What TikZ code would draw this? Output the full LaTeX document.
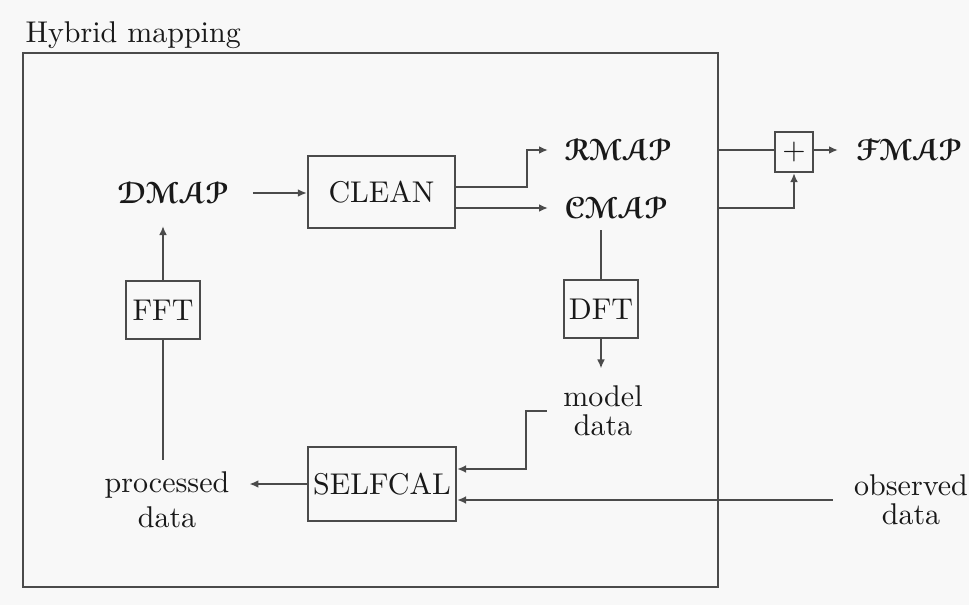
\documentclass[tikz,border=0pt]{standalone}
\usepackage{eucal}
\usetikzlibrary{arrows.meta}

\definecolor{paper}{RGB}{248,248,248}
\definecolor{ink}{RGB}{25,25,25}
\definecolor{wire}{RGB}{75,75,75}

\tikzset{
  wireline/.style={draw=wire, line width=0.75pt},
  arr/.style={wireline, -{Latex[length=3pt,width=2.6pt]}},
  block/.style={draw=wire, line width=0.75pt, rectangle, inner sep=0pt, text=ink},
  label/.style={text=ink, align=center},
  mapname/.style={label, font=\boldmath},
}

\begin{document}
\begin{tikzpicture}[x=0.33333pt, y=-0.33333pt]
  % canvas
  \fill[paper] (0,0) rectangle (969,605);
  \useasboundingbox (0,0) rectangle (969,605);

  % enclosing frame and its caption
  \node[block, minimum width=231.67pt, minimum height=178pt] (frame) at (370.5,320) {};
  \node[label, anchor=base west, inner sep=0pt] (title) at (25,42) {Hybrid mapping};

  % blocks
  \node[block, minimum width=49pt, minimum height=24pt] (clean) at (381.5,192) {CLEAN};
  \node[block, minimum width=24.7pt, minimum height=19.3pt] (fft) at (163,310) {FFT};
  \node[block, minimum width=24.7pt, minimum height=19.3pt] (dft) at (601,309) {DFT};
  \node[block, minimum width=49.3pt, minimum height=24.67pt] (selfcal) at (382,484) {SELFCAL};
  \node[block, minimum width=12.7pt, minimum height=13.3pt] (plus) at (794,152) {$+$};

  % maps
  \node[mapname, inner xsep=8pt, inner ysep=7.3pt] (dmap) at (173,193) {$\mathcal{DMAP}$};
  \node[mapname, anchor=west, inner xsep=5.3pt, inner ysep=3.7pt] (rmap) at (548,150) {$\mathcal{RMAP}$};
  \node[mapname, anchor=west, inner xsep=5.3pt, inner ysep=3.7pt] (cmap) at (548,208) {$\mathcal{CMAP}$};
  \node[mapname, anchor=west, inner xsep=6pt, inner ysep=3pt] (fmap) at (838,150) {$\mathcal{FMAP}$};

  % data
  \node[label, inner xsep=5.3pt, inner ysep=5.7pt] (model) at (603,411) {model\\[-2.5pt]data};
  \node[label, inner xsep=6.5pt, inner ysep=4pt] (proc) at (167,500) {processed\\[-0.5pt]data};
  \node[label, inner xsep=7pt, inner ysep=4pt] (obs) at (911,500) {observed\\[-2.5pt]data};

  % CLEAN outputs
  \coordinate (split) at (527,187);
  \draw[arr] (clean.east |- split) -- (split) |- (rmap.west);
  \draw[arr] (clean.east |- cmap) -- (cmap.west);

  % model loop
  \draw[arr] (dmap.east) -- (dmap.east -| clean.west);
  \draw[wireline] (dft.north |- cmap.south) -- (dft.north);
  \draw[arr] (dft.south) -- (dft.south |- model.north);
  \draw[arr] (model.west) -- ++(-21,0) |- ([yshift=5pt]selfcal.east);
  \draw[arr] (obs.west) -- (obs.west -| selfcal.east);
  \draw[arr] (selfcal.west) -- (selfcal.west -| proc.east);
  \draw[wireline] (fft.south |- proc.north) -- (fft.south);
  \draw[arr] (fft.north) -- (fft.north |- dmap.south);

  % final sum outside the frame
  \draw[wireline] (rmap -| frame.east) -- (rmap -| plus.west);
  \draw[arr] (cmap -| frame.east) -| (plus.south);
  \draw[arr] (rmap -| plus.east) -- (fmap.west);
\end{tikzpicture}
\end{document}
